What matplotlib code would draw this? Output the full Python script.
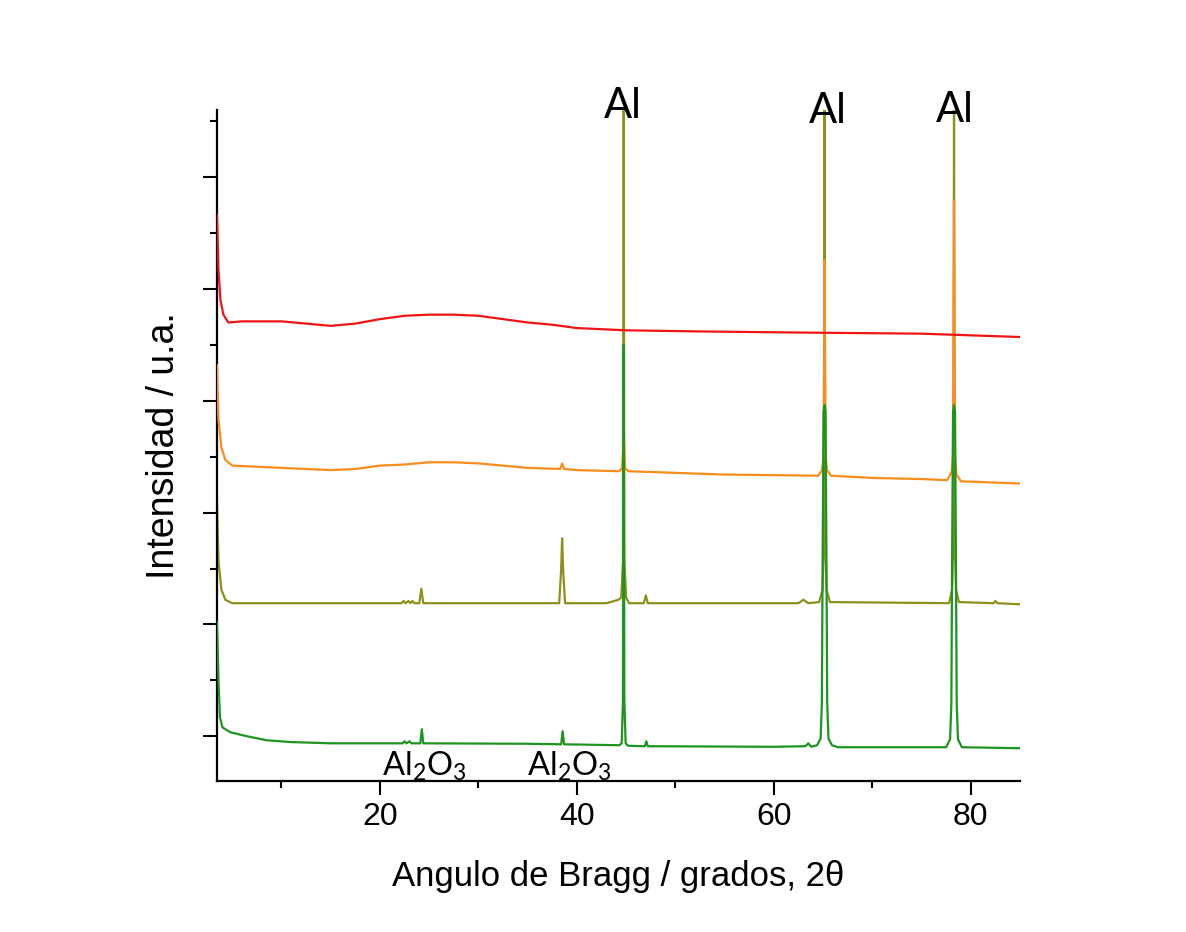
import numpy as np
import matplotlib
matplotlib.use('Agg')
import matplotlib.pyplot as plt

plt.rcParams['font.family'] = ['Liberation Sans', 'DejaVu Sans']
plt.rcParams['mathtext.fontset'] = 'custom'
plt.rcParams['mathtext.rm'] = 'Lato'
plt.rcParams['mathtext.it'] = 'Lato:italic'

# difractogramas (2theta, intensidad desplazada, u.a.)
red_x = [3.45, 3.6, 3.8, 4.1, 4.6, 6, 10, 15, 17.5, 20, 22.5, 25, 27.5, 30, 32.5, 35, 37.5, 40,
         45, 52.5, 62.6, 75, 85]
red_y = [4.66, 4.17, 3.90, 3.77, 3.70, 3.71, 3.71, 3.67, 3.69, 3.73, 3.76, 3.77, 3.77, 3.76, 3.73, 3.70, 3.68, 3.65,
         3.63, 3.62, 3.61, 3.60, 3.57]

orange_x = [3.45, 3.6, 3.9, 4.3, 5, 10, 15, 17.5, 20, 22.5, 25, 27.5, 30, 32.5, 35, 38.3, 38.5, 38.7, 40,
            44.3, 44.6, 44.72, 44.75, 44.78, 44.9, 45.2, 55,
            64.5, 64.9, 65.05, 65.15, 65.25, 65.4, 65.8, 70, 75,
            77.6, 78.05, 78.2, 78.3, 78.4, 78.55, 79.0, 85]
orange_y = [3.32, 2.83, 2.58, 2.47, 2.42, 2.40, 2.38, 2.39, 2.42, 2.43, 2.45, 2.45, 2.44, 2.42, 2.40, 2.39, 2.44, 2.39, 2.38,
            2.37, 2.40, 2.65, 3.05, 2.65, 2.40, 2.37, 2.34,
            2.33, 2.38, 2.51, 4.26, 2.51, 2.38, 2.33, 2.31, 2.30,
            2.29, 2.36, 2.51, 4.79, 2.51, 2.34, 2.28, 2.26]

olive_x = [3.45, 3.6, 3.9, 4.3, 5, 22.2, 22.4, 22.6, 22.9, 23.1, 23.3, 23.5, 24.0, 24.2, 24.4,
           38.2, 38.4, 38.5, 38.6, 38.8, 43.0, 44.2, 44.5, 44.68, 44.75, 44.82, 45.0, 45.3,
           46.8, 47.0, 47.2, 62.5, 63.0, 63.5,
           64.6, 64.95, 65.08, 65.15, 65.22, 65.35, 65.7,
           77.8, 78.1, 78.23, 78.3, 78.37, 78.5, 78.8, 82.3, 82.5, 82.7, 85]
olive_y = [2.09, 1.57, 1.31, 1.22, 1.19, 1.19, 1.21, 1.19, 1.21, 1.19, 1.21, 1.19, 1.19, 1.32, 1.19,
           1.19, 1.49, 1.77, 1.49, 1.19, 1.19, 1.22, 1.24, 1.57, 5.65, 1.57, 1.24, 1.19,
           1.19, 1.26, 1.19, 1.19, 1.22, 1.19,
           1.20, 1.31, 1.75, 5.65, 1.75, 1.31, 1.20,
           1.19, 1.31, 1.75, 5.65, 1.75, 1.31, 1.20, 1.19, 1.21, 1.19, 1.18]

green_x = [3.45, 3.6, 3.75, 4.0, 4.8, 6.5, 8.5, 11, 15, 22.3, 22.5, 22.7, 23.0, 23.2, 24.1, 24.25, 24.4,
           35, 38.4, 38.55, 38.7, 44.3, 44.55, 44.68, 44.75, 44.82, 44.95, 45.2,
           46.9, 47.05, 47.2, 60, 63.2, 63.5, 63.8,
           64.4, 64.75, 64.88, 64.95, 65.05, 65.15, 65.25, 65.35, 65.42, 65.55, 65.9, 66.5,
           77.5, 77.9, 78.03, 78.1, 78.2, 78.3, 78.4, 78.5, 78.57, 78.7, 79.1, 85]
green_y = [1.02, 0.50, 0.17, 0.08, 0.036, 0.0, -0.036, -0.052, -0.063, -0.063, -0.045, -0.063, -0.045, -0.063, -0.063, 0.063, -0.063,
           -0.067, -0.072, 0.045, -0.072, -0.08, -0.063, 0.32, 3.50, 0.32, -0.063, -0.085,
           -0.089, -0.045, -0.089, -0.094, -0.089, -0.063, -0.094,
           -0.08, -0.02, 0.3, 1.5, 2.9, 2.96, 2.9, 1.5, 0.3, -0.02, -0.08, -0.098,
           -0.098, -0.027, 0.3, 1.5, 2.9, 2.96, 2.9, 1.5, 0.3, -0.027, -0.098, -0.107]

al_pos = [44.7, 65.5, 78.4]
al_y = [5.53, 5.48, 5.49]
al2o3_pos = [24.5, 39.2]

fig = plt.figure(figsize=(11.86, 9.32), dpi=100)
ax = fig.add_axes([217/1186, 151/932, 803/1186, 671/932])

ax.plot(olive_x, olive_y, color='#8e901c', lw=1.6, zorder=2)
ax.plot(orange_x, orange_y, color='#fb8c1e', lw=1.6, zorder=3)
ax.plot(green_x, green_y, color='#1e9420', lw=1.6, zorder=4)
ax.plot(red_x, red_y, color='#f01414', lw=1.6, zorder=5)

for x, y in zip(al_pos, al_y):
    ax.text(x, y, 'Al', fontsize=30, family='Lato', ha='center', va='baseline', clip_on=False)
for x in al2o3_pos:
    ax.text(x, -0.35, 'Al$_2$O$_3$', fontsize=23.5, family='Lato', ha='center', va='baseline')

ax.set_xlim(3.45, 85)
ax.set_ylim(-0.4, 5.6)
ax.set_xticks([20, 40, 60, 80])
ax.set_xticks([10, 30, 50, 70], minor=True)
ax.set_yticks(np.arange(0, 6))
ax.set_yticks(np.arange(0.5, 6, 1), minor=True)
ax.tick_params(which='major', length=10, width=1.5, labelsize=23, pad=5)
ax.tick_params(which='minor', length=5, width=1.5)
ax.tick_params(axis='y', labelleft=False)

for s in ['top', 'right']:
    ax.spines[s].set_visible(False)
for s in ['left', 'bottom']:
    ax.spines[s].set_linewidth(1.6)

ax.set_xlabel('Angulo de Bragg / grados, 2θ', fontsize=25, labelpad=20)
ax.set_ylabel('Intensidad / u.a.', fontsize=27, labelpad=15)

fig.savefig('out.png', dpi=100, facecolor='white')
